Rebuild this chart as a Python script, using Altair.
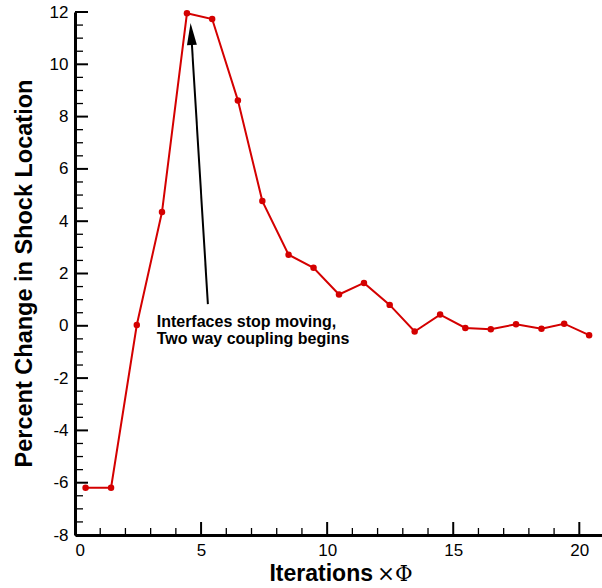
import altair as alt
import pandas as pd

# Shock-location history
iterations = [0.42, 1.43, 2.45, 3.45, 4.44, 5.44, 6.46, 7.43, 8.47, 9.46, 10.47,
              11.46, 12.48, 13.47, 14.48, 15.48, 16.49, 17.49, 18.5, 19.4, 20.39]
pct_change = [-6.19, -6.19, 0.03, 4.35, 11.95, 11.73, 8.62, 4.77, 2.72, 2.22, 1.20,
              1.64, 0.80, -0.22, 0.43, -0.08, -0.13, 0.06, -0.11, 0.08, -0.36]

# Axis ticks
x_major = [0, 5, 10, 15, 20]
x_minor = [v for v in range(1, 21) if v % 5 != 0]
y_major = list(range(-8, 13, 2))
y_minor = [v / 2 for v in range(-16, 25) if v % 4 != 0]

# Annotation arrow (tail -> head) and label
arrow_tail = (5.27, 0.83)
arrow_head_center = (4.61, 11.16)
note_lines = ["Interfaces stop moving,", "Two way coupling begins"]
note_pos = (3.24, 0.16)

W, H = 527, 523
FONT = "Liberation Sans"
RED = "#d40000"

x_scale = alt.Scale(domain=[0, 20.9], nice=False, zero=False)
y_scale = alt.Scale(domain=[-8, 12], nice=False, zero=False)

df = pd.DataFrame({"it": iterations, "pct": pct_change})

axis_common = dict(
    title=None, ticks=False, grid=False, domain=True, domainColor="black",
    domainWidth=3, labelFont=FONT, labelFontSize=17, labelColor="black",
    labelExpr="'' + datum.value",
)

series = alt.Chart(df).mark_line(color=RED, strokeWidth=2).encode(
    x=alt.X("it:Q", scale=x_scale,
            axis=alt.Axis(values=x_major, labelPadding=7, **axis_common)),
    y=alt.Y("pct:Q", scale=y_scale,
            axis=alt.Axis(values=y_major, labelPadding=7, **axis_common)),
)
dots = alt.Chart(df).mark_circle(color=RED, size=42, opacity=1).encode(
    x=alt.X("it:Q", scale=x_scale), y=alt.Y("pct:Q", scale=y_scale)
)

# Inward-pointing ticks drawn as short rules
x_ticks_major = alt.Chart(pd.DataFrame({"v": x_major})).mark_rule(
    color="black", strokeWidth=2).encode(
    x=alt.X("v:Q", scale=x_scale), y=alt.value(H), y2=alt.value(H - 13))
x_ticks_minor = alt.Chart(pd.DataFrame({"v": x_minor})).mark_rule(
    color="black", strokeWidth=1.3).encode(
    x=alt.X("v:Q", scale=x_scale), y=alt.value(H), y2=alt.value(H - 7))
y_ticks_major = alt.Chart(pd.DataFrame({"v": y_major})).mark_rule(
    color="black", strokeWidth=2).encode(
    y=alt.Y("v:Q", scale=y_scale), x=alt.value(0), x2=alt.value(13))
y_ticks_minor = alt.Chart(pd.DataFrame({"v": y_minor})).mark_rule(
    color="black", strokeWidth=1.3).encode(
    y=alt.Y("v:Q", scale=y_scale), x=alt.value(0), x2=alt.value(8))

arrow_df = pd.DataFrame({"x": [arrow_tail[0]], "y": [arrow_tail[1]],
                         "x2": [arrow_head_center[0]], "y2": [arrow_head_center[1]]})
arrow_line = alt.Chart(arrow_df).mark_rule(color="black", strokeWidth=2).encode(
    x=alt.X("x:Q", scale=x_scale), y=alt.Y("y:Q", scale=y_scale), x2="x2:Q", y2="y2:Q")
arrow_head = alt.Chart(arrow_df).mark_point(
    shape="M0,-1L0.45,1L-0.45,1Z", filled=True, color="black", opacity=1,
    size=484, angle=356.5, strokeWidth=0,
).encode(x=alt.X("x2:Q", scale=x_scale), y=alt.Y("y2:Q", scale=y_scale))

note_df = pd.DataFrame({"x": [note_pos[0]], "y": [note_pos[1]], "t": [note_lines]})
note = alt.Chart(note_df).mark_text(
    align="left", baseline="middle", font=FONT, fontSize=16, fontWeight="bold",
    color="black", lineHeight=17,
).encode(x=alt.X("x:Q", scale=x_scale), y=alt.Y("y:Q", scale=y_scale), text="t")

# Axis titles
lbl = pd.DataFrame({"a": [0]})
y_title = alt.Chart(lbl).mark_text(
    text="Percent Change in Shock Location", angle=270, align="center",
    baseline="middle", font=FONT, fontSize=23.5, fontWeight="bold", color="black",
).encode(x=alt.value(-50), y=alt.value(H / 2))
x_title_a = alt.Chart(lbl).mark_text(
    text="Iterations", align="right", baseline="alphabetic", font=FONT,
    fontSize=23, fontWeight="bold", color="black",
).encode(x=alt.value(298), y=alt.value(569))
x_title_b = alt.Chart(lbl).mark_text(
    text="×Φ", align="left", baseline="alphabetic", font="DejaVu Serif",
    fontSize=21.5, color="black",
).encode(x=alt.value(302), y=alt.value(569))

chart = alt.layer(
    series, dots, x_ticks_major, x_ticks_minor, y_ticks_major, y_ticks_minor,
    arrow_line, arrow_head, note, y_title, x_title_a, x_title_b,
).properties(
    width=W, height=H,
    autosize=alt.AutoSizeParams(type="none"),
    padding={"left": 75, "top": 12, "right": 0, "bottom": 53},
    background="white",
).configure_view(stroke=None)

chart.save("out.html", embed_options={"renderer": "svg", "actions": False})
